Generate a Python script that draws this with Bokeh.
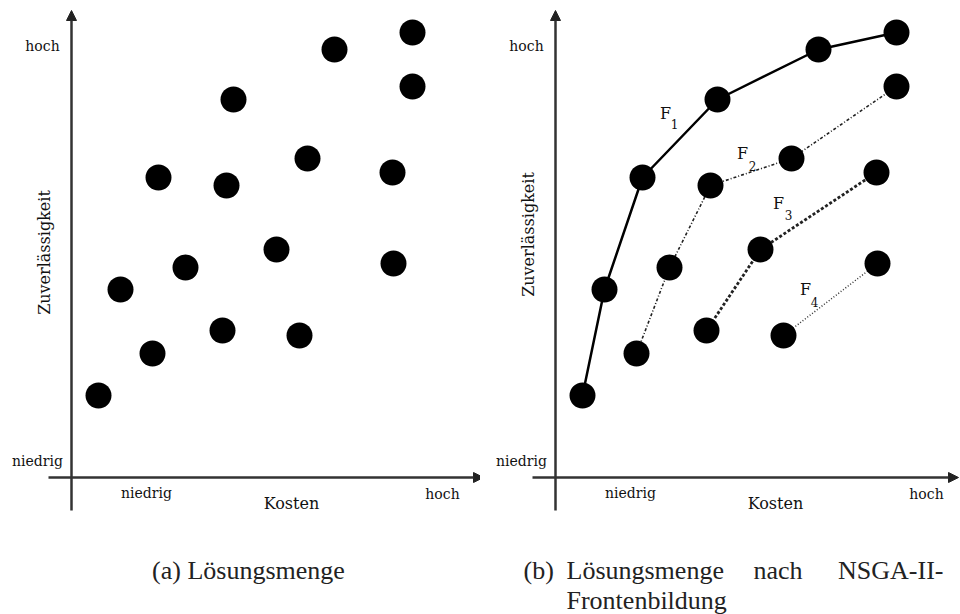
import math
from bokeh.plotting import figure
from bokeh.layouts import row
from bokeh.models import Arrow, NormalHead
from bokeh.core.properties import value
from bokeh.embed import file_html
from bokeh.resources import INLINE

# ---- data: Kosten (x) vs Zuverlässigkeit (y), arbitrary units ----
f1_kosten = [2.7, 4.9, 8.7, 16.2, 26.3, 34.1]
f1_zuv = [8.2, 18.8, 30.0, 37.8, 42.8, 44.5]
f2_kosten = [8.1, 11.4, 15.5, 23.6, 34.1]
f2_zuv = [12.4, 21.0, 29.2, 31.9, 39.1]
f3_kosten = [15.1, 20.5, 32.1]
f3_zuv = [14.7, 22.8, 30.5]
f4_kosten = [22.8, 32.2]
f4_zuv = [14.2, 21.4]

front_names = ["1", "2", "3", "4"]
caption_a = "(a) Lösungsmenge"
caption_b1 = ["(b)", "Lösungsmenge", "nach", "NSGA-II-"]
caption_b2 = "Frontenbildung"

all_kosten = f1_kosten + f2_kosten + f3_kosten + f4_kosten
all_zuv = f1_zuv + f2_zuv + f3_zuv + f4_zuv

SERIF = value("DejaVu Serif")
CAP = value("Liberation Serif")
H = 614


def make_panel(width, x_start, x_arrow_end, ylab_y):
    y_top = 47.7
    p = figure(width=width, height=H, x_range=(x_start, x_start + width / 10.0),
               y_range=(y_top - H / 10.0, y_top), output_backend="svg",
               toolbar_location=None, min_border=0)
    p.axis.visible = False
    p.grid.visible = False
    p.outline_line_color = None
    p.background_fill_color = "white"
    p.border_fill_color = "white"

    head_v = NormalHead(size=10, fill_color="#222222", line_color="#222222")
    head_h = NormalHead(size=10, fill_color="#222222", line_color="#222222")
    p.add_layout(Arrow(end=head_v, x_start=0, y_start=-3.3, x_end=0, y_end=46.7,
                       line_width=2.5, line_color="#333333"))
    p.add_layout(Arrow(end=head_h, x_start=-2.3, y_start=0, x_end=x_arrow_end, y_end=0,
                       line_width=2.5, line_color="#333333"))

    p.text(x=[-2.9, -3.4, 7.5, 37.1], y=[43.2, 1.7, -1.5, -1.6],
           text=["hoch", "niedrig", "niedrig", "hoch"],
           text_font=SERIF, text_font_size="14px", text_align="center",
           text_baseline="middle", text_color="#111111")
    p.text(x=[22.0], y=[-2.6], text=["Kosten"], text_font=SERIF,
           text_font_size="16px", text_align="center", text_baseline="middle",
           text_color="#111111")
    p.text(x=[-2.7], y=[ylab_y], text=["Zuverlässigkeit"], angle=math.pi / 2,
           text_font=SERIF, text_font_size="16px", text_align="center",
           text_baseline="middle", text_color="#111111")
    return p


# ---- panel (a) ----
pa = make_panel(480, -7.1, 41.2, 22.5)
pa.scatter(all_kosten, all_zuv, size=26, fill_color="black", line_color=None)
pa.text(x=[17.7], y=[-9.3], text=[caption_a], text_font=CAP, text_font_size="26px",
        text_align="center", text_baseline="middle", text_color="#222222")

# ---- panel (b) ----
pb = make_panel(480, -7.5, 40.3, 24.3)
pb.line(f1_kosten, f1_zuv, line_width=2.5, line_color="black")
pb.line(f2_kosten, f2_zuv, line_width=1.6, line_color="#222222", line_dash="3 2 1 2")
pb.line(f3_kosten, f3_zuv, line_width=2.8, line_color="#222222", line_dash="3 2")
pb.line(f4_kosten, f4_zuv, line_width=1.5, line_color="#333333", line_dash="1 2")
for kx, ky in [(f1_kosten, f1_zuv), (f2_kosten, f2_zuv), (f3_kosten, f3_zuv), (f4_kosten, f4_zuv)]:
    pb.scatter(kx, ky, size=26, fill_color="black", line_color=None)

pb.text(x=[11.0, 18.7, 22.3, 25.0], y=[36.45, 32.45, 27.45, 18.8],
        text=["F", "F", "F", "F"], text_font=SERIF, text_font_size="16px",
        text_align="center", text_baseline="middle", text_color="#111111")
pb.text(x=[11.9, 19.7, 23.3, 25.9], y=[35.4, 31.2, 26.3, 17.6],
        text=front_names, text_font=SERIF, text_font_size="12px",
        text_align="center", text_baseline="middle", text_color="#111111")

pb.text(x=[-3.2, 1.1, 19.8], y=[-9.3, -9.3, -9.3], text=caption_b1[:3],
        text_font=CAP, text_font_size="26px", text_align="left",
        text_baseline="middle", text_color="#222222")
pb.text(x=[38.8], y=[-9.3], text=[caption_b1[3]], text_font=CAP,
        text_font_size="26px", text_align="right", text_baseline="middle",
        text_color="#222222")
pb.text(x=[1.1], y=[-12.3], text=[caption_b2], text_font=CAP, text_font_size="26px",
        text_align="left", text_baseline="middle", text_color="#222222")

layout = row(pa, pb, spacing=0)
open("out.html", "w").write(file_html(layout, INLINE))
